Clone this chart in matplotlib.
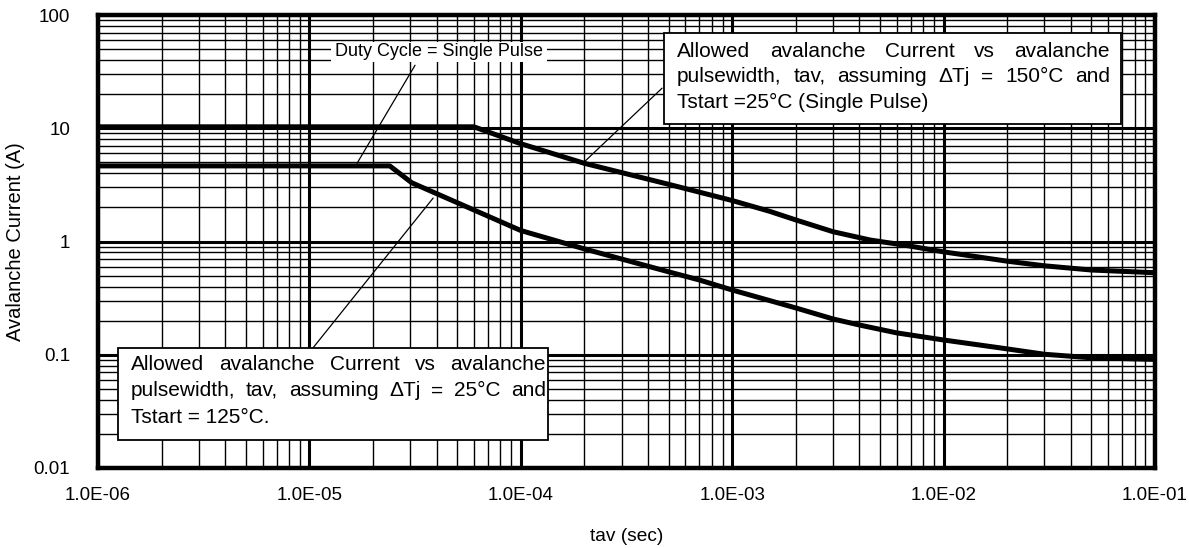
import matplotlib
matplotlib.use('Agg')
import matplotlib.pyplot as plt
from matplotlib.patches import Rectangle
from matplotlib.ticker import LogLocator, FuncFormatter, NullFormatter

plt.rcParams['font.family'] = ['Liberation Sans', 'DejaVu Sans']

# avalanche current, dTj = 150 C, Tstart = 25 C
tav_hot = [1e-6, 6e-5, 1e-4, 2e-4, 5e-4, 1e-3, 1.5e-3, 2e-3, 3e-3, 4.5e-3, 6.5e-3,
           1e-2, 2e-2, 3e-2, 5e-2, 1e-1]
ia_hot = [10.3, 10.3, 7.3, 4.9, 3.2, 2.3, 1.85, 1.55, 1.22, 1.03, 0.93,
          0.81, 0.67, 0.61, 0.56, 0.53]

# avalanche current, dTj = 25 C, Tstart = 125 C
tav_warm = [1e-6, 2.4e-5, 3.05e-5, 1e-4, 2e-4, 5e-4, 7e-4, 1e-3, 2e-3, 3e-3, 4e-3,
            6e-3, 1e-2, 1.85e-2, 3e-2, 5e-2, 1e-1]
ia_warm = [4.65, 4.65, 3.3, 1.25, 0.86, 0.54, 0.457, 0.373, 0.259, 0.207, 0.183,
           0.156, 0.135, 0.115, 0.101, 0.094, 0.091]

W, H = 1189, 548
fig = plt.figure(figsize=(W / 100, H / 100), dpi=100)
ax = fig.add_axes([98 / W, 1 - 468 / H, (1155 - 98) / W, (468 - 15) / H])

ax.set_xscale('log')
ax.set_yscale('log')
ax.set_xlim(1e-6, 1e-1)
ax.set_ylim(0.01, 100)

ax.plot(tav_hot, ia_hot, color='black', lw=3.6, solid_joinstyle='round', zorder=3)
ax.plot(tav_warm, ia_warm, color='black', lw=3.6, solid_joinstyle='round', zorder=3)

ax.xaxis.set_major_locator(LogLocator(base=10, numticks=20))
ax.xaxis.set_minor_locator(LogLocator(base=10, subs=range(2, 10), numticks=100))
ax.yaxis.set_major_locator(LogLocator(base=10, numticks=20))
ax.yaxis.set_minor_locator(LogLocator(base=10, subs=range(2, 10), numticks=100))
ax.xaxis.set_major_formatter(FuncFormatter(lambda v, p: f"{v:.1E}"))
ax.yaxis.set_major_formatter(FuncFormatter(lambda v, p: f"{v:g}"))
ax.xaxis.set_minor_formatter(NullFormatter())
ax.yaxis.set_minor_formatter(NullFormatter())

ax.grid(which='major', color='black', lw=2.2)
ax.grid(which='minor', color='black', lw=1.0)
ax.set_axisbelow(True)
for s in ax.spines.values():
    s.set_linewidth(3.2)
ax.tick_params(which='both', length=0, labelsize=13.5)
ax.tick_params(axis='x', pad=14)
ax.tick_params(axis='y', pad=20)

ax.set_xlabel('tav (sec)', fontsize=13.8, labelpad=17)
ax.set_ylabel('Avalanche Current (A)', fontsize=14.5, labelpad=6)

# leader lines from the notes to the curves
lead = dict(arrowstyle='-', color='black', lw=0.9, shrinkA=0, shrinkB=0)
ax.annotate('', xy=(1.68e-5, 4.9), xytext=(3.16e-5, 36), arrowprops=lead, zorder=4)
ax.annotate('', xy=(1.97e-4, 4.93), xytext=(4.66e-4, 22.6), arrowprops=lead, zorder=4)
ax.annotate('', xy=(3.85e-5, 2.42), xytext=(1.04e-5, 0.115), arrowprops=lead, zorder=4)


def fbox(x0, y0, x1, y1, edge=True):
    r = Rectangle((x0 / W, 1 - y1 / H), (x1 - x0) / W, (y1 - y0) / H,
                  transform=fig.transFigure, facecolor='white',
                  edgecolor='black' if edge else 'none', lw=1.3, zorder=5)
    fig.add_artist(r)


renderer = fig.canvas.get_renderer()


def note(lines, x0, x1, y_first, step, size):
    """Write lines word by word; lines flagged True are stretched to full width."""
    for i, (txt, justify) in enumerate(lines):
        y = 1 - (y_first + i * step) / H
        if not justify:
            fig.text(x0 / W, y, txt, fontsize=size, va='baseline', zorder=6)
            continue
        words = [fig.text(0, y, w, fontsize=size, va='baseline', zorder=6)
                 for w in txt.split()]
        widths = [t.get_window_extent(renderer=renderer).width for t in words]
        gap = (x1 - x0 - sum(widths)) / (len(words) - 1)
        x = x0
        for t, w in zip(words, widths):
            t.set_x(x / W)
            x += w + gap


fbox(331, 42, 547, 62, edge=False)
fig.text(439 / W, 1 - 52 / H, 'Duty Cycle = Single Pulse', fontsize=13,
         ha='center', va='center', zorder=6)

fbox(664, 33, 1121, 124)
note([('Allowed avalanche Current vs avalanche', True),
      ('pulsewidth, tav, assuming ΔTj = 150°C and', True),
      ('Tstart =25°C (Single Pulse)', False)],
     677, 1110, 57, 25.5, 15)

fbox(118, 348, 548, 440)
note([('Allowed avalanche Current vs avalanche', True),
      ('pulsewidth, tav, assuming ΔTj = 25°C and', True),
      ('Tstart = 125°C.', False)],
     131, 546, 370, 26.5, 15)

fig.savefig('out.png', dpi=100)
